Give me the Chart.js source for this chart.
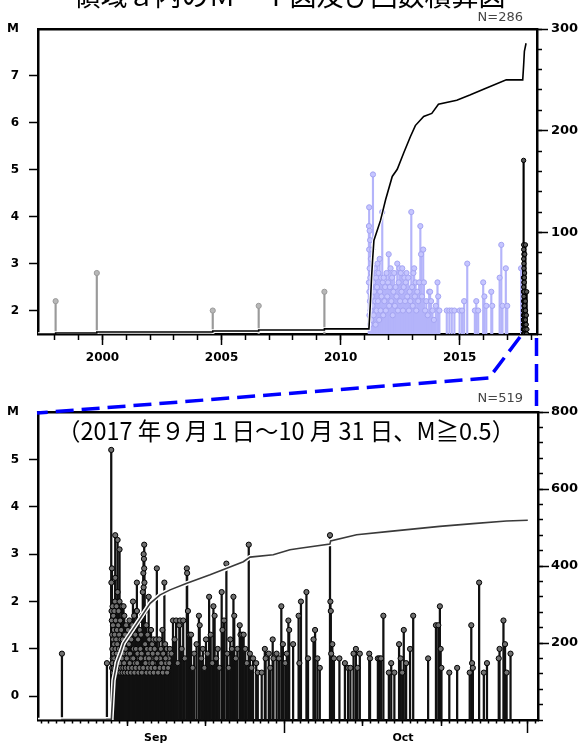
<!DOCTYPE html>
<html>
<head>
<meta charset="utf-8">
<script src="https://cdn.jsdelivr.net/npm/chart.js@4.4.1/dist/chart.umd.min.js"></script>
<style>
html, body { margin: 0; padding: 0; background: #fff; width: 579px; height: 746px; overflow: hidden; position: relative; }
canvas { position: absolute; left: 0; }
#c1 { top: 0; }
#c2 { top: 380px; }
.t { position: absolute; white-space: nowrap; color: #000; }
#title { left: 0; width: 579px; text-align: center; top: -19px; font: 27px/27px "Noto Sans CJK JP"; }
#sub { left: 57px; top: 418px; font: 24px/24px "Noto Sans CJK JP"; transform: scaleX(0.977); transform-origin: 0 0; }
.n { font: 13px/13px "DejaVu Sans"; color: #444; text-align: right; width: 80px; left: 443px; }
#n1 { top: 10px; }
#n2 { top: 391px; }
svg { position: absolute; left: 0; top: 0; }
</style>
</head>
<body>
<canvas id="c1" width="579" height="370"></canvas>
<canvas id="c2" width="579" height="366"></canvas>
<div class="t" id="title">領域ａ内のＭ－Ｔ図及び回数積算図</div>
<div class="t" id="sub">（2017 年９月１日～10 月 31 日、M≧0.5）</div>
<div class="t n" id="n1">N=286</div>
<div class="t n" id="n2">N=519</div>
<svg width="579" height="746">
  <g fill="none" stroke="#0000ff" stroke-width="3.5" stroke-dasharray="18 8">
    <polyline points="520,337 489,378 37,413"/>
    <line x1="536.5" y1="338" x2="536.5" y2="406"/>
  </g>
</svg>
<script>
// ---- top panel: whole period, M>=1.5 ----
const oldYear = [1998.03, 1999.76, 2004.63, 2006.56, 2009.32];
const oldMag = [2.2, 2.8, 2.0, 2.1, 2.4];

// after the 2011 Tohoku quake (light blue)
const lavYear = [
  2011.19, 2011.19, 2011.20, 2011.20, 2011.21, 2011.21, 2011.22, 2011.22, 2011.23, 2011.24,
  2011.24, 2011.25, 2011.26, 2011.27, 2011.28, 2011.29, 2011.30, 2011.31, 2011.33, 2011.34,
  2011.36, 2011.37, 2011.39, 2011.41, 2011.43, 2011.45, 2011.47, 2011.49, 2011.51, 2011.53,
  2011.55, 2011.57, 2011.59, 2011.62, 2011.64, 2011.66, 2011.68, 2011.70, 2011.72, 2011.75,
  2011.77, 2011.79, 2011.81, 2011.84, 2011.87, 2011.90, 2011.93, 2011.96, 2011.99, 2012.02,
  2012.04, 2012.07, 2012.10, 2012.13, 2012.16, 2012.19, 2012.22, 2012.25, 2012.28, 2012.31,
  2012.35, 2012.38, 2012.41, 2012.44, 2012.47, 2012.50, 2012.53, 2012.56, 2012.59, 2012.62,
  2012.65, 2012.68, 2012.71, 2012.74, 2012.77, 2012.80, 2012.84, 2012.87, 2012.90, 2012.93,
  2012.97, 2013.00, 2013.03, 2013.06, 2013.09, 2013.12, 2013.15, 2013.18, 2013.22, 2013.26,
  2013.30, 2013.35, 2013.38, 2013.42, 2013.47, 2013.50, 2013.55, 2013.60, 2013.66, 2013.72,
  2013.76, 2013.80, 2013.86, 2013.92, 2014.00, 2014.07, 2014.10, 2014.15, 2014.46, 2014.57,
  2014.67, 2014.78, 2015.00, 2015.10, 2015.19, 2015.32, 2015.64, 2015.70, 2015.78, 2015.99,
  2016.04, 2016.12, 2016.33, 2016.37, 2016.68, 2016.75, 2016.80, 2016.94, 2017.00, 2017.58
];
const lavMag = [
  3.8, 2.6, 4.2, 3.3, 2.4, 1.9, 3.7, 2.9, 2.2, 3.5,
  1.7, 2.7, 2.0, 3.1, 2.5, 1.8, 2.8, 2.3, 3.3, 2.1,
  4.9, 2.6, 1.9, 2.4, 2.9, 2.2, 1.7, 2.7, 2.0, 2.5,
  3.0, 2.2, 2.8, 1.8, 3.1, 2.4, 2.0, 2.7, 2.3, 4.1,
  2.6, 1.9, 2.7, 2.2, 2.5, 2.0, 2.8, 2.3, 2.6, 3.2,
  2.1, 2.5, 2.9, 2.2, 2.7, 1.9, 2.4, 2.8, 2.1, 2.5,
  2.3, 3.0, 2.0, 2.6, 2.9, 2.2, 2.8, 2.4, 2.9, 2.0,
  2.5, 2.7, 2.2, 2.6, 2.8, 2.3, 2.7, 2.0, 2.4, 2.2,
  4.1, 2.5, 2.1, 2.8, 2.9, 2.3, 2.6, 2.0, 2.4, 2.2,
  2.6, 3.8, 3.2, 2.3, 3.3, 2.6, 2.0, 2.2, 1.9, 2.4,
  2.4, 2.2, 2.0, 1.8, 2.1, 2.6, 2.3, 2.0, 2.0, 2.0,
  2.0, 2.0, 2.0, 2.0, 2.2, 3.0, 2.0, 2.2, 2.0, 2.6,
  2.3, 2.1, 2.4, 2.1, 2.7, 3.4, 2.1, 2.9, 2.1, 2.9
];

// cumulative count, top panel (right axis)
const topCumYear = [1997.29, 1998.03, 1998.03, 1999.76, 1999.76, 2004.63, 2004.63, 2006.56, 2006.56,
  2009.32, 2009.32, 2011.19, 2011.25, 2011.30, 2011.35, 2011.40, 2011.68, 2011.89, 2012.17, 2012.38,
  2012.65, 2012.93, 2013.14, 2013.49, 2013.83, 2014.11, 2014.88, 2015.43, 2016.13, 2016.96, 2017.65,
  2017.69, 2017.72, 2017.79];
const topCumCount = [0, 0, 1, 1, 2, 2, 3, 3, 4,
  4, 5, 5, 30, 55, 75, 92, 112, 132, 155, 162,
  178, 194, 205, 214, 217, 226, 230, 235, 242, 250, 250,
  265, 278, 286];

const yearTicks = [2000, 2005, 2010, 2015];
const magTicksTop = [2, 3, 4, 5, 6, 7, 8];
const countTicksTop = [100, 200, 300];

// ---- bottom panel: 2017-09-01 .. 10-31, M>=0.5 (days since Sep 1) ----
const swarmDay = [
  1.65, 7.38, 7.93,
  7.95, 7.97, 8.00, 8.02, 8.05, 8.07, 8.10, 8.12, 8.15, 8.18,
  8.20, 8.23, 8.26, 8.29, 8.32, 8.35, 8.38, 8.41, 8.44, 8.44,
  8.47, 8.50, 8.53, 8.56, 8.60, 8.63, 8.66, 8.70, 8.74, 8.74,
  8.78, 8.82, 8.86, 8.90, 8.94, 8.99, 8.99, 9.03, 9.07, 9.11,
  9.15, 9.20, 9.25, 9.30, 9.35, 9.40, 9.46, 9.50, 9.55, 9.60,
  9.65, 9.70, 9.76, 9.82, 9.88, 9.94, 10.00, 10.06, 10.12, 10.18,
  10.25, 10.32, 10.40, 10.48, 10.55, 10.62, 10.70, 10.70, 10.78, 10.85,
  10.92, 11.00, 11.08, 11.15, 11.20, 11.20, 11.27, 11.35, 11.42, 11.50,
  11.57, 11.65, 11.72, 11.80, 11.87, 11.95, 12.02, 12.06, 12.06, 12.10,
  12.13, 12.13, 12.16, 12.20, 12.25, 12.32, 12.40, 12.48, 12.55, 12.62,
  12.70, 12.78, 12.85, 12.93, 13.00, 13.08, 13.15, 13.22, 13.30, 13.38,
  13.46, 13.55, 13.64, 13.74, 13.85, 13.95, 14.05, 14.15, 14.25, 14.35,
  14.45, 14.55, 14.70, 14.80, 14.90, 15.00, 15.10, 15.25, 15.40,
  15.6, 15.8, 16.0, 16.2, 16.4, 16.6, 16.7, 16.9, 17.1, 17.3,
  17.56, 17.6, 17.7, 17.9, 18.1, 18.3, 18.5, 18.8, 19.1, 19.2,
  19.4, 19.6, 19.8, 20.0, 20.2, 20.4, 20.6, 20.8, 20.95, 21.1,
  21.3, 21.5, 21.7, 22.0, 22.1, 22.3, 22.6, 22.7, 22.9, 23.1,
  23.3, 23.5, 23.6, 23.8, 24.0, 24.3, 24.4, 24.6, 24.8, 25.0,
  25.2, 25.45, 25.6, 25.8, 26.0, 26.4, 26.6, 27.1, 27.5, 27.6,
  28.0, 28.2, 28.5, 28.6, 29.0, 29.3, 29.6, 29.8, 30.1,
  30.3, 30.5, 30.6, 31.1, 31.8, 31.9, 32.1, 32.8, 33.0, 33.7,
  33.9, 34.2, 34.5, 35.8, 35.85, 35.9, 35.95, 36.1, 36.3, 37.0,
  37.7, 38.1, 38.4, 38.8, 39.1, 39.3, 39.6, 40.8, 40.9, 41.9,
  42.1, 42.3, 42.6, 43.3, 43.6, 44.0, 44.6, 44.8, 45.0, 45.2,
  45.5, 46.0, 46.4, 48.3, 49.3, 49.6, 49.8, 49.9, 50.0, 51.0,
  52.0, 53.6, 53.8, 53.9, 54.0, 54.8, 55.4, 55.8, 57.3, 57.4,
  57.9, 58.1, 58.3, 58.8
];
const swarmMag = [
  0.9, 0.7, 5.2,
  2.4, 1.8, 1.6, 2.7, 1.3, 1.0, 1.9, 0.8, 1.5, 1.2,
  1.7, 0.9, 1.4, 1.1, 1.8, 0.7, 1.3, 2.0, 3.4, 2.5,
  1.0, 1.6, 0.8, 1.2, 1.9, 0.9, 1.4, 1.1, 3.3, 2.2,
  0.7, 1.5, 1.8, 1.0, 1.3, 3.1, 2.0, 0.8, 1.6, 1.2,
  0.9, 1.4, 1.0, 1.9, 0.7, 1.2, 0.9, 1.9, 1.1, 1.7,
  0.8, 1.3, 1.0, 1.5, 0.7, 1.2, 0.9, 1.4, 0.8, 1.1,
  1.6, 0.9, 1.3, 1.2, 0.8, 1.5, 2.0, 1.4, 1.0, 1.7,
  0.7, 1.3, 1.0, 1.8, 2.4, 1.8, 0.9, 1.2, 1.6, 0.8,
  1.4, 1.0, 1.3, 0.9, 1.7, 2.2, 2.6, 3.0, 2.3, 2.9,
  3.2, 2.7, 2.4, 1.8, 1.1, 0.8, 1.5, 1.0, 1.3, 0.9,
  2.1, 1.2, 0.7, 1.0, 1.4, 0.8, 1.1, 0.9, 1.2, 0.7,
  1.0, 0.8, 1.2, 2.7, 0.9, 0.6, 1.2, 0.8, 1.0, 0.6,
  1.4, 0.9, 2.4, 1.1, 0.7, 1.0, 0.6, 0.8, 1.0,
  0.9, 1.6, 1.2, 1.6, 0.7, 1.5, 1.6, 1.0, 1.6, 0.8,
  2.7, 2.6, 1.8, 1.3, 1.3, 0.6, 0.9, 1.1, 1.7, 1.5,
  0.8, 1.0, 0.6, 1.2, 0.9, 2.1, 1.3, 0.7, 1.9, 1.7,
  0.8, 1.0, 0.6, 2.2, 1.4, 1.6, 2.8, 0.9, 0.6, 1.2,
  1.0, 2.1, 1.7, 0.8, 1.0, 1.5, 1.3, 1.3, 1.3, 1.0,
  0.7, 3.2, 0.9, 0.6, 0.8, 0.7, 0.5, 0.5, 1.0, 0.8,
  0.9, 0.6, 1.2, 0.8, 0.9, 0.8, 1.9, 1.1, 0.7,
  0.9, 1.6, 1.4, 1.1, 1.7, 0.7, 2.0, 2.2, 0.8, 1.2,
  1.4, 0.8, 0.6, 3.4, 2.0, 1.8, 0.9, 1.1, 0.8, 0.8,
  0.7, 0.6, 0.6, 0.9, 1.0, 0.6, 0.9, 0.9, 0.8, 0.8,
  0.8, 0.8, 1.7, 0.5, 0.7, 0.5, 1.1, 0.8, 0.5, 1.4,
  0.7, 1.0, 1.7, 0.8, 1.5, 1.5, 1.9, 1.0, 0.6, 0.5,
  0.6, 0.5, 1.5, 0.7, 0.6, 2.4, 0.5, 0.7, 0.8, 1.0,
  1.6, 1.1, 0.5, 0.9
];
// small shocks packed into the first week of the swarm (the solid black band)
const smallDay = [
  8.03, 8.09, 8.16, 8.24, 8.31, 8.37, 8.46, 8.52, 8.58, 8.68,
  8.76, 8.84, 8.92, 9.01, 9.09, 9.18, 9.28, 9.38, 9.48, 9.58,
  9.68, 9.79, 9.91, 10.03, 10.15, 10.28, 10.44, 10.59, 10.74, 10.88,
  11.04, 11.24, 11.39, 11.54, 11.69, 11.84, 12.00, 12.29, 12.44, 12.59,
  12.74, 12.89, 13.04, 13.19, 13.34, 13.50, 13.69, 13.90, 14.10, 14.30,
  14.50, 14.62, 14.85, 15.05, 15.18, 15.32
];
const smallMag = [
  0.6, 0.7, 0.5, 0.6, 0.8, 0.5, 0.6, 0.7, 0.5, 0.6,
  0.8, 0.5, 0.6, 0.7, 0.5, 0.6, 0.8, 0.5, 0.6, 0.7,
  0.5, 0.6, 0.8, 0.5, 0.6, 0.7, 0.5, 0.6, 0.8, 0.5,
  0.6, 0.7, 0.5, 0.6, 0.8, 0.5, 0.6, 0.7, 0.5, 0.6,
  0.8, 0.5, 0.6, 0.7, 0.5, 0.6, 0.8, 0.5, 0.6, 0.7,
  0.5, 0.6, 0.8, 0.5, 0.6, 0.7
];

const swarmCumDay = [-1.4, 1.65, 1.65, 7.38, 7.38, 7.93, 7.95, 8.22, 8.65, 9.07, 9.49, 10.34, 11.62,
  12.89, 14.16, 15.43, 17.56, 20.52, 22.65, 24.76, 25.61, 28.57, 30.70, 31.97, 35.79, 35.88,
  39.19, 43.42, 49.78, 54.02, 58.27, 61.0];
const swarmCumCount = [0, 0, 1, 1, 2, 2, 3, 103, 150, 173, 199, 225, 264,
  303, 325, 338, 355, 377, 394, 411, 423, 429, 442, 446, 457, 465,
  481, 490, 503, 510, 517, 519];

const monthStartTicks = [30, 61];
const tenDayTicks = [10, 20, 40, 50];
const monthLabelPos = [13.6, 45.1];
const monthLabels = ['Sep', 'Oct'];
const magTicksBottom = [0, 1, 2, 3, 4, 5, 6];
const countTicksBottom = [200, 400, 600, 800];

Chart.defaults.font.family = 'DejaVu Sans';
Chart.defaults.color = '#000';

const boldFont = size => ({ family: 'DejaVu Sans', weight: 'bold', size: size });
// fixed box sizes so the plot frames land where the reference has them
const fixW = w => s => { s.width = w; s.paddingTop = 0; s.paddingBottom = 0; };
const fixH = h => s => { s.height = h; s.paddingLeft = 0; s.paddingRight = 0; };
const useTicks = vals => s => { s.ticks = vals.map(v => ({ value: v })); };

function pairs(xs, ys) {
  const n = Math.min(xs.length, ys.length);
  const out = [];
  for (let i = 0; i < n; i++) out.push({ x: xs[i], y: ys[i] });
  return out;
}
function stems(xs, ys, base) {
  return pairs(xs, ys).map(p => ({ x: p.x, y: [base, p.y] }));
}

// tick-only axis, takes no layout room
function tickAxis(axis, position, min, max, len, weight, opts) {
  return Object.assign({
    type: 'linear', axis: axis, position: position, min: min, max: max, weight: weight, offset: false,
    ticks: { display: false, includeBounds: false },
    grid: { drawOnChartArea: false, tickLength: len, tickWidth: 1.5, tickColor: '#000', offset: false },
    border: { display: false },
    afterFit: axis === 'x' ? fixH(0) : fixW(0)
  }, opts || {});
}

function frameTop(min, max) {
  return {
    type: 'linear', axis: 'x', position: 'top', min: min, max: max, offset: false,
    ticks: { display: false },
    grid: { drawOnChartArea: false, drawTicks: false, offset: false },
    border: { display: true, width: 2.5, color: '#000' },
    afterFit: fixH(0)
  };
}

function baseOptions(padTop) {
  return {
    responsive: false, animation: false, events: [], devicePixelRatio: 1,
    layout: { padding: { top: padTop, left: 0, right: 0, bottom: 0 } },
    plugins: { legend: { display: false }, tooltip: { enabled: false } }
  };
}

// ---------- top chart ----------
const yrMin = 1997.29, yrMax = 2018.25;
const septFrac = 243 / 365;
const blackYear = [], blackMag = [];
swarmDay.forEach((d, i) => {
  if (swarmMag[i] >= 1.5) { blackYear.push(2017 + septFrac + d / 365); blackMag.push(swarmMag[i]); }
});

const topOpts = baseOptions(29);
topOpts.scales = {
  x: {
    type: 'linear', position: 'bottom', min: yrMin, max: yrMax, weight: 1, offset: false,
    afterBuildTicks: useTicks(yearTicks), afterFit: fixH(36),
    ticks: { font: boldFont(12), padding: 6, autoSkip: false, maxRotation: 0, callback: v => String(v) },
    grid: { drawOnChartArea: false, tickLength: 11, tickWidth: 1.5, tickColor: '#000', offset: false },
    border: { width: 2.5, color: '#000' }
  },
  xMinor: tickAxis('x', 'bottom', yrMin, yrMax, 6, 0, { ticks: { display: false, stepSize: 1, includeBounds: false } }),
  xTop: frameTop(yrMin, yrMax),
  y: {
    type: 'linear', position: 'left', min: 1.5, max: 8, weight: 1, stacked: false,
    afterBuildTicks: useTicks(magTicksTop), afterFit: fixW(38),
    ticks: { font: boldFont(12), padding: 10, autoSkip: false, callback: v => v === 8 ? 'M' : String(v) },
    grid: { drawOnChartArea: false, tickLength: 9, tickWidth: 1.5,
            tickColor: c => (c.tick && c.tick.value === 8) ? 'rgba(0,0,0,0)' : '#000' },
    border: { width: 2.5, color: '#000' }
  },
  yCount: {
    type: 'linear', axis: 'y', position: 'right', min: 0, max: 300, weight: 1,
    afterBuildTicks: useTicks(countTicksTop), afterFit: fixW(42),
    ticks: { font: boldFont(13), padding: 3, autoSkip: false, callback: v => String(v) },
    grid: { drawOnChartArea: false, tickLength: 11, tickWidth: 1.5, tickColor: '#000' },
    border: { width: 2.5, color: '#000' }
  },
  yCountMinor: tickAxis('y', 'right', 0, 300, 5, 0, { ticks: { display: false, stepSize: 20, includeBounds: false } })
};

new Chart(document.getElementById('c1'), {
  type: 'bar',
  data: {
    datasets: [
      { type: 'line', order: 0, data: pairs(topCumYear, topCumCount), xAxisID: 'x', yAxisID: 'yCount',
        borderColor: '#000', borderWidth: 1.6, pointRadius: 0, tension: 0, fill: false },
      { type: 'line', order: 1, data: pairs(topCumYear, topCumCount), xAxisID: 'x', yAxisID: 'yCount',
        borderColor: '#fff', borderWidth: 3.5, pointRadius: 0, tension: 0, fill: false },
      { type: 'scatter', order: 2, data: pairs(blackYear, blackMag), xAxisID: 'x', yAxisID: 'y',
        pointRadius: 2.2, pointBackgroundColor: '#555', pointBorderColor: '#000', pointBorderWidth: 1 },
      { type: 'bar', order: 3, data: stems(blackYear, blackMag, 1.5), xAxisID: 'x', yAxisID: 'y',
        backgroundColor: '#000', borderWidth: 0, barThickness: 1.5, stack: 'stem' },
      { type: 'scatter', order: 4, data: pairs(lavYear, lavMag), xAxisID: 'x', yAxisID: 'y',
        pointRadius: 2.6, pointBackgroundColor: '#c6c6ff', pointBorderColor: '#a4a4f2', pointBorderWidth: 1 },
      { type: 'bar', order: 5, data: stems(lavYear, lavMag, 1.5), xAxisID: 'x', yAxisID: 'y',
        backgroundColor: '#b4b4fa', borderWidth: 0, barThickness: 1.5, stack: 'stem' },
      { type: 'scatter', order: 6, data: pairs(oldYear, oldMag), xAxisID: 'x', yAxisID: 'y',
        pointRadius: 2.6, pointBackgroundColor: '#b8b8b8', pointBorderColor: '#9a9a9a', pointBorderWidth: 1 },
      { type: 'bar', order: 7, data: stems(oldYear, oldMag, 1.5), xAxisID: 'x', yAxisID: 'y',
        backgroundColor: '#9a9a9a', borderWidth: 0, barThickness: 1.5, stack: 'stem' }
    ]
  },
  options: topOpts
});

// ---------- bottom chart ----------
const dMin = -1.4, dMax = 62.3;
const allDay = swarmDay.concat(smallDay);
const allMag = swarmMag.concat(smallMag);
const botOpts = baseOptions(32);
botOpts.scales = {
  xDay: tickAxis('x', 'bottom', dMin, dMax, 3.5, 0, { ticks: { display: false, stepSize: 1, includeBounds: false } }),
  xTen: tickAxis('x', 'bottom', dMin, dMax, 6, 1, { afterBuildTicks: useTicks(tenDayTicks) }),
  x: {
    type: 'linear', position: 'bottom', min: dMin, max: dMax, weight: 2, offset: false,
    afterBuildTicks: useTicks(monthStartTicks), afterFit: fixH(0),
    ticks: { display: false },
    grid: { drawOnChartArea: false, tickLength: 13, tickWidth: 1.5, tickColor: '#000', offset: false },
    border: { width: 2.5, color: '#000' }
  },
  xLabel: {
    type: 'linear', axis: 'x', position: 'bottom', min: dMin, max: dMax, weight: 3, offset: false,
    afterBuildTicks: useTicks(monthLabelPos), afterFit: fixH(26),
    ticks: { font: boldFont(11), padding: 12, autoSkip: false, maxRotation: 0, callback: (v, i) => monthLabels[i] },
    grid: { drawOnChartArea: false, drawTicks: false, offset: false },
    border: { display: false }
  },
  xTop: frameTop(dMin, dMax),
  y: {
    type: 'linear', position: 'left', min: -0.5, max: 6, weight: 1, stacked: false,
    afterBuildTicks: useTicks(magTicksBottom), afterFit: fixW(38),
    ticks: { font: boldFont(12), padding: 10, autoSkip: false, callback: v => v === 6 ? 'M' : String(v) },
    grid: { drawOnChartArea: false, tickLength: 9, tickWidth: 1.5,
            tickColor: c => (c.tick && c.tick.value === 6) ? 'rgba(0,0,0,0)' : '#000' },
    border: { width: 2.5, color: '#000' }
  },
  yCount: {
    type: 'linear', axis: 'y', position: 'right', min: 0, max: 800, weight: 1,
    afterBuildTicks: useTicks(countTicksBottom), afterFit: fixW(41),
    ticks: { font: boldFont(13), padding: 2, autoSkip: false, callback: v => String(v) },
    grid: { drawOnChartArea: false, tickLength: 11, tickWidth: 1.5, tickColor: '#000' },
    border: { width: 2.5, color: '#000' }
  },
  yCountMinor: tickAxis('y', 'right', 0, 800, 5, 0, { ticks: { display: false, stepSize: 40, includeBounds: false } })
};

new Chart(document.getElementById('c2'), {
  type: 'bar',
  data: {
    datasets: [
      { type: 'line', order: 0, data: pairs(swarmCumDay, swarmCumCount), xAxisID: 'x', yAxisID: 'yCount',
        borderColor: '#3a3a3a', borderWidth: 1.6, pointRadius: 0, tension: 0, fill: false },
      { type: 'line', order: 1, data: pairs(swarmCumDay, swarmCumCount), xAxisID: 'x', yAxisID: 'yCount',
        borderColor: '#fff', borderWidth: 4.5, pointRadius: 0, tension: 0, fill: false },
      { type: 'scatter', order: 2, data: pairs(allDay, allMag), xAxisID: 'x', yAxisID: 'y',
        pointRadius: 2.6, pointBackgroundColor: '#707070', pointBorderColor: '#000', pointBorderWidth: 1 },
      { type: 'bar', order: 3, data: stems(allDay, allMag, -0.5), xAxisID: 'x', yAxisID: 'y',
        backgroundColor: '#111', borderWidth: 0, barThickness: 1.6, stack: 'stem' }
    ]
  },
  options: botOpts
});
</script>
</body>
</html>
